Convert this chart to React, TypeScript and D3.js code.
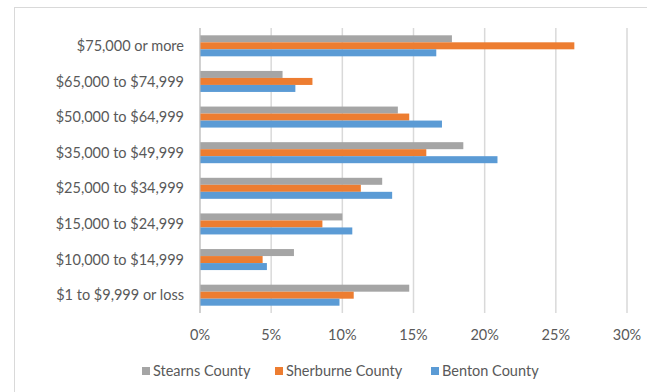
import React from "react";
import * as d3 from "d3";

const categories = [
  "$75,000 or more",
  "$65,000 to $74,999",
  "$50,000 to $64,999",
  "$35,000 to $49,999",
  "$25,000 to $34,999",
  "$15,000 to $24,999",
  "$10,000 to $14,999",
  "$1 to $9,999 or loss",
];
const seriesNames = ["Stearns County", "Sherburne County", "Benton County"];
const stearns = [17.7, 5.8, 13.9, 18.5, 12.8, 10.0, 6.6, 14.7];
const sherburne = [26.3, 7.9, 14.7, 15.9, 11.3, 8.6, 4.4, 10.8];
const benton = [16.6, 6.7, 17.0, 20.9, 13.5, 10.7, 4.7, 9.8];
const xTicks = [0, 5, 10, 15, 20, 25, 30];
const colors = ["#A5A5A5", "#ED7D31", "#5B9BD5"];

export default function App() {
  const W = 647, H = 392;
  const left = 200, right = 627, top = 28, bottom = 313;
  const x = d3.scaleLinear().domain([0, 30]).range([left, right]);
  const y = d3.scaleBand<string>().domain(categories).range([top, bottom]).paddingInner(0.41).paddingOuter(0.205);
  const sub = d3.scaleBand<number>().domain([0, 1, 2]).range([0, y.bandwidth()]);
  const data = [stearns, sherburne, benton];
  const font = "Lato, 'Open Sans', sans-serif";
  const textColor = "#595959";
  const legendX = [142, 275, 431];
  return (
    <svg width={W} height={H} style={{ position: "absolute", left: 0, top: 0, background: "#fff" }}>
      <rect x={14.5} y={7.5} width={W} height={H} fill="#fff" stroke="#D9D9D9" />
      {xTicks.map((t) => (
        <line key={t} x1={x(t)} x2={x(t)} y1={top} y2={bottom} stroke="#D9D9D9" strokeWidth={1.5} />
      ))}
      {data.map((vals, si) =>
        vals.map((v, ci) => (
          <rect
            key={`${si}-${ci}`}
            x={x(0)}
            y={(y(categories[ci]) ?? 0) + (sub(si) ?? 0)}
            width={x(v) - x(0)}
            height={sub.bandwidth()}
            fill={colors[si]}
          />
        ))
      )}
      <line x1={x(0)} x2={x(0)} y1={top} y2={bottom} stroke="#BFBFBF" strokeWidth={1} />
      {categories.map((c) => (
        <text key={c} x={184} y={(y(c) ?? 0) + y.bandwidth() / 2} dy="0.35em" textAnchor="end" fontFamily={font} fontSize={14.5} fill={textColor}>
          {c}
        </text>
      ))}
      {xTicks.map((t) => (
        <text key={t} x={x(t)} y={335} dy="0.35em" textAnchor="middle" fontFamily={font} fontSize={14.5} fill={textColor}>
          {`${t}%`}
        </text>
      ))}
      {seriesNames.map((n, i) => (
        <g key={n}>
          <rect x={legendX[i]} y={367} width={8} height={8} fill={colors[i]} />
          <text x={legendX[i] + 11} y={371} dy="0.35em" fontFamily={font} fontSize={14.5} fill={textColor}>
            {n}
          </text>
        </g>
      ))}
    </svg>
  );
}
